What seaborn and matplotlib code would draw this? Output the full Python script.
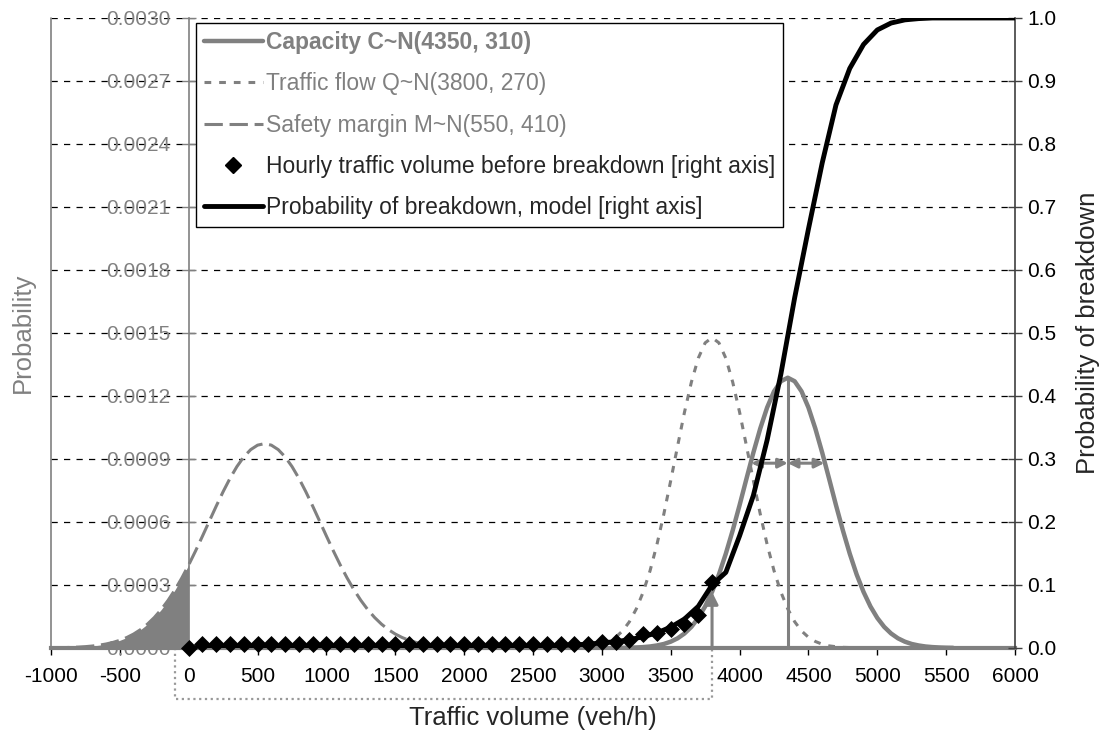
import numpy as np
import matplotlib
matplotlib.use("Agg")
import matplotlib.pyplot as plt
from matplotlib.lines import Line2D
import seaborn as sns

GRAY = "#808080"

# x grids (veh/h)
flow_x = np.arange(2800, 4801, 50)
capacity_x = np.arange(3150, 5551, 50)
margin_x = np.arange(-1000, 2101, 50)
model_x = np.arange(0, 6001, 100)
observed_x = np.arange(0, 3801, 100)

# densities, in units of 1e-4
flow_pdf = [0.02, 0.03, 0.06, 0.10, 0.18, 0.31, 0.51, 0.81, 1.25, 1.86, 2.66, 3.68, 4.93, 6.38,
            7.97, 9.62, 11.23, 12.66, 13.80, 14.53, 14.78, 14.53, 13.80, 12.66, 11.23, 9.62, 7.97,
            6.38, 4.93, 3.68, 2.66, 1.86, 1.25, 0.81, 0.51, 0.31, 0.18, 0.10, 0.06, 0.03, 0.02]
capacity_pdf = [0.007, 0.013, 0.024, 0.042, 0.071, 0.12, 0.19, 0.30, 0.46, 0.69, 1.005, 1.43,
                1.98, 2.67, 3.50, 4.49, 5.60, 6.80, 8.06, 9.30, 10.45, 11.45, 12.22, 12.70, 12.87,
                12.70, 12.22, 11.45, 10.45, 9.30, 8.06, 6.80, 5.60, 4.49, 3.50, 2.67, 1.98, 1.43,
                1.005, 0.69, 0.46, 0.30, 0.19, 0.12, 0.071, 0.042, 0.024, 0.013, 0.007]
margin_pdf = [0.0077, 0.012, 0.019, 0.029, 0.043, 0.064, 0.093, 0.134, 0.190, 0.266, 0.366,
              0.497, 0.664, 0.874, 1.134, 1.450, 1.826, 2.266, 2.769, 3.335, 3.957, 4.626, 5.328,
              6.046, 6.759, 7.445, 8.080, 8.639, 9.100, 9.445, 9.658, 9.730, 9.658, 9.445, 9.100,
              8.639, 8.080, 7.445, 6.759, 6.046, 5.328, 4.626, 3.957, 3.335, 2.769, 2.266, 1.826,
              1.450, 1.134, 0.874, 0.664, 0.497, 0.366, 0.266, 0.190, 0.134, 0.093, 0.064, 0.043,
              0.029, 0.019, 0.012, 0.0077]

# probability of breakdown (right axis)
model_prob = [0.0, 0.0, 0.0, 0.0, 0.0, 0.0, 0.0, 0.0, 0.0, 0.0, 0.0, 0.0, 0.0, 0.0, 0.0, 0.0,
              0.0, 0.0, 0.0, 0.0, 0.0, 0.001, 0.001, 0.001, 0.002, 0.002, 0.003, 0.004, 0.005,
              0.006, 0.008, 0.010, 0.013, 0.018, 0.024, 0.033, 0.046, 0.066, 0.100, 0.120, 0.178,
              0.242, 0.330, 0.435, 0.556, 0.665, 0.770, 0.862, 0.920, 0.958, 0.981, 0.992, 0.997,
              0.999, 1.0, 1.0, 1.0, 1.0, 1.0, 1.0, 1.0]
observed_prob = [0.0, 0.007, 0.007, 0.007, 0.007, 0.007, 0.007, 0.007, 0.007, 0.007, 0.007,
                 0.007, 0.007, 0.007, 0.007, 0.007, 0.007, 0.007, 0.007, 0.007, 0.007, 0.007,
                 0.007, 0.007, 0.007, 0.007, 0.007, 0.007, 0.007, 0.007, 0.009, 0.010, 0.013,
                 0.022, 0.023, 0.030, 0.038, 0.052, 0.105]

flow_pdf = np.array(flow_pdf) * 1e-4
capacity_pdf = np.array(capacity_pdf) * 1e-4
margin_pdf = np.array(margin_pdf) * 1e-4

flow_mean = 3800
cap_mean = 4350
cap_spread = 265          # half width of the double arrows
cap_spread_level = 0.00088
box_left = -100
box_depth = -0.000245

labels = ["Capacity C~N(4350, 310)", "Traffic flow Q~N(3800, 270)",
          "Safety margin M~N(550, 410)", "Hourly traffic volume before breakdown [right axis]",
          "Probability of breakdown, model [right axis]"]

sns.set_theme(style="white")
plt.rcParams["font.family"] = ["Liberation Sans", "DejaVu Sans"]
plt.rcParams["axes.unicode_minus"] = False

fig, ax = plt.subplots(figsize=(11.04, 7.34), dpi=100)
fig.subplots_adjust(left=0.0462, right=0.9194, top=0.9755, bottom=0.1172)
ax2 = ax.twinx()

# left axis: densities
low = margin_x <= 0
ax.fill_between(margin_x[low], margin_pdf[low], color=GRAY, lw=0, zorder=2)
sns.lineplot(x=margin_x, y=margin_pdf, ax=ax, color=GRAY, lw=2.2, legend=False, zorder=3)
ax.lines[-1].set_dashes((6, 2.2))
sns.lineplot(x=flow_x, y=flow_pdf, ax=ax, color=GRAY, lw=2.2, legend=False, zorder=3)
ax.lines[-1].set_dashes((2.2, 2.6))
sns.lineplot(x=capacity_x, y=capacity_pdf, ax=ax, color=GRAY, lw=3.2, legend=False, zorder=3)

# helper marks
ax.vlines(cap_mean, 0, capacity_pdf.max(), color=GRAY, lw=2.2, zorder=3)
arrow_top = capacity_pdf[capacity_x == flow_mean][0]
ax.annotate("", xy=(flow_mean, arrow_top), xytext=(flow_mean, 0),
            arrowprops=dict(arrowstyle="-|>", color=GRAY, lw=2.2, mutation_scale=18,
                            shrinkA=0, shrinkB=0), zorder=3)
for side in (-1, 1):
    ax.annotate("", xy=(cap_mean + side * cap_spread, cap_spread_level),
                xytext=(cap_mean, cap_spread_level),
                arrowprops=dict(arrowstyle="<|-|>", color=GRAY, lw=2.2, mutation_scale=14,
                                shrinkA=0, shrinkB=0), zorder=3)
ax.plot([box_left, box_left, flow_mean, flow_mean], [0, box_depth, box_depth, 0],
        color="#999999", lw=1.6, ls=(0, (1, 1.6)), clip_on=False, zorder=1)
ax.axvline(-1000, color=GRAY, lw=1.2, clip_on=False)

ax.set_xlim(-1000, 6000)
ax.set_ylim(0, 0.003)
ax.set_xticks(np.arange(-1000, 6001, 500))
yt = np.arange(0, 0.00301, 0.0003)
ax.set_yticks(yt)
ax.set_yticklabels([f"{v:.4f}" for v in yt])
ax.yaxis.grid(True, color="black", lw=0.9, ls=(0, (5, 5)))
ax.xaxis.grid(False)
ax.set_axisbelow(True)
ax.get_ygridlines()[-1].set_color(GRAY)

for s in ("top", "right"):
    ax.spines[s].set_visible(False)
ax.spines["left"].set_position(("data", 0))
ax.spines["left"].set_color(GRAY)
ax.spines["left"].set_linewidth(1.2)
ax.spines["bottom"].set_color(GRAY)
ax.spines["bottom"].set_linewidth(3)
ax.tick_params(axis="x", direction="out", length=5, width=1, color="black",
               labelsize=15, labelcolor="black", pad=9, bottom=True)
ax.tick_params(axis="y", direction="inout", length=10, width=1, color=GRAY,
               labelsize=15, labelcolor=GRAY, pad=8, left=True)
ax.set_xlabel("Traffic volume (veh/h)", fontsize=18.5, labelpad=14)
ax.set_ylabel("Probability", fontsize=18.5, color=GRAY)
ax.yaxis.set_label_coords(-0.017, 0.5)

# right axis: probability of breakdown
sns.lineplot(x=model_x, y=model_prob, ax=ax2, color="black", lw=3.5, legend=False, zorder=4)
sns.scatterplot(x=observed_x, y=observed_prob, ax=ax2, color="black", marker="D", s=75,
                edgecolor="black", linewidth=0, legend=False, zorder=5, clip_on=False)
ax2.set_ylim(0, 1.0)
ax2.set_yticks(np.arange(0, 1.01, 0.1))
ax2.set_yticklabels([f"{v:.1f}" for v in np.arange(0, 1.01, 0.1)])
for s in ("top", "left", "bottom"):
    ax2.spines[s].set_visible(False)
ax2.spines["right"].set_color("#404040")
ax2.spines["right"].set_linewidth(1.2)
ax2.tick_params(axis="y", direction="inout", length=10, width=1, color="#404040",
                labelsize=15, labelcolor="black", pad=4, right=True)
ax2.set_ylabel("Probability of breakdown", fontsize=18.5, labelpad=14)

handles = [
    Line2D([], [], color=GRAY, lw=3.2),
    Line2D([], [], color=GRAY, lw=2.2, dashes=(2.2, 2.6)),
    Line2D([], [], color=GRAY, lw=2.2, dashes=(6, 2.2)),
    Line2D([], [], color="black", marker="D", ls="none", markersize=8),
    Line2D([], [], color="black", lw=3.5),
]
leg = ax2.legend(handles, labels, loc="upper left", bbox_to_anchor=(0.150, 0.992),
                 borderaxespad=0, borderpad=0.35, handlelength=2.6, handletextpad=0.1,
                 labelspacing=0.8, fontsize=16.5, frameon=True, fancybox=False,
                 framealpha=1, edgecolor="black")
leg.get_frame().set_linewidth(1.0)
texts = leg.get_texts()
for t in texts[:3]:
    t.set_color(GRAY)
texts[0].set_fontweight("bold")

plt.savefig("out.png", dpi=100)
plt.close()
